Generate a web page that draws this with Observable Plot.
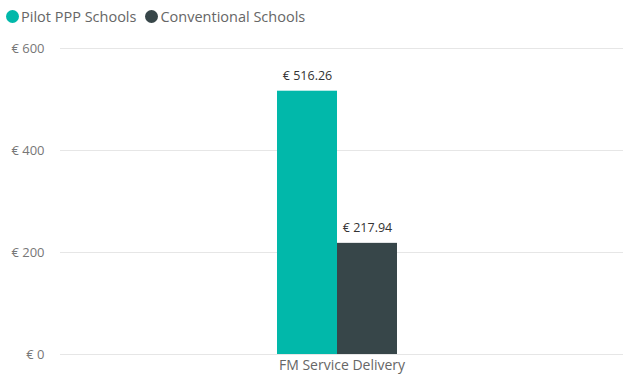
<!DOCTYPE html>
<html>
<head>
<meta charset="utf-8">
<script src="https://cdn.jsdelivr.net/npm/d3@7"></script>
<script src="https://cdn.jsdelivr.net/npm/@observablehq/plot@0.6"></script>
<style>
  body { margin: 0; background: #fff; font-family: "Open Sans", "Segoe UI", sans-serif; }
  #legend { height: 32px; display: flex; align-items: center; padding-left: 6px; padding-top: 1px; box-sizing: border-box; font-size: 14.5px; color: #666; }
  .item { display: flex; align-items: center; margin-right: 9px; }
  .dot { width: 13px; height: 13px; border-radius: 50%; margin-right: 2px; }
</style>
</head>
<body>
<div id="legend"></div>
<div id="chart"></div>
<script>
const categories = ["FM Service Delivery"];
const series = ["Pilot PPP Schools", "Conventional Schools"];
const values = [516.26, 217.94];
const colors = ["#01B8AA", "#374649"];
const yTicks = [0, 200, 400, 600];

const data = series.map((s, i) => ({category: categories[0], series: s, value: values[i]}));

const legend = document.getElementById("legend");
series.forEach((s, i) => {
  const it = document.createElement("div");
  it.className = "item";
  it.innerHTML = `<span class="dot" style="background:${colors[i]}"></span><span>${s}</span>`;
  legend.appendChild(it);
});

const fmt = v => "€ " + v.toFixed(2);

const chart = Plot.plot({
  width: 631,
  height: 348,
  marginTop: 16,
  marginBottom: 26,
  marginLeft: 60,
  marginRight: 8,
  style: {fontFamily: "'Open Sans', 'Segoe UI', sans-serif", fontSize: "12px", color: "#777"},
  x: {domain: series, paddingInner: 0, paddingOuter: 3.69, align: 0.49, axis: null},
  y: {domain: [0, 600], ticks: yTicks, label: null},
  color: {domain: series, range: colors},
  marks: [
    Plot.ruleY(yTicks, {stroke: "#e6e6e6", strokeWidth: 1}),
    Plot.axisY({ticks: yTicks, tickSize: 0, tickPadding: 16, tickFormat: d => "€ " + d, fill: "#777", fontSize: 13, label: null}),
    Plot.barY(data, {x: "series", y: "value", fill: "series"}),
    Plot.text(data, {x: "series", y: "value", text: d => fmt(d.value), dy: -15, fill: "#333", fontSize: 12.5}),
    Plot.text(categories, {frameAnchor: "bottom", dy: 15, fill: "#666", fontSize: 14})
  ]
});
document.getElementById("chart").appendChild(chart);
</script>
</body>
</html>
